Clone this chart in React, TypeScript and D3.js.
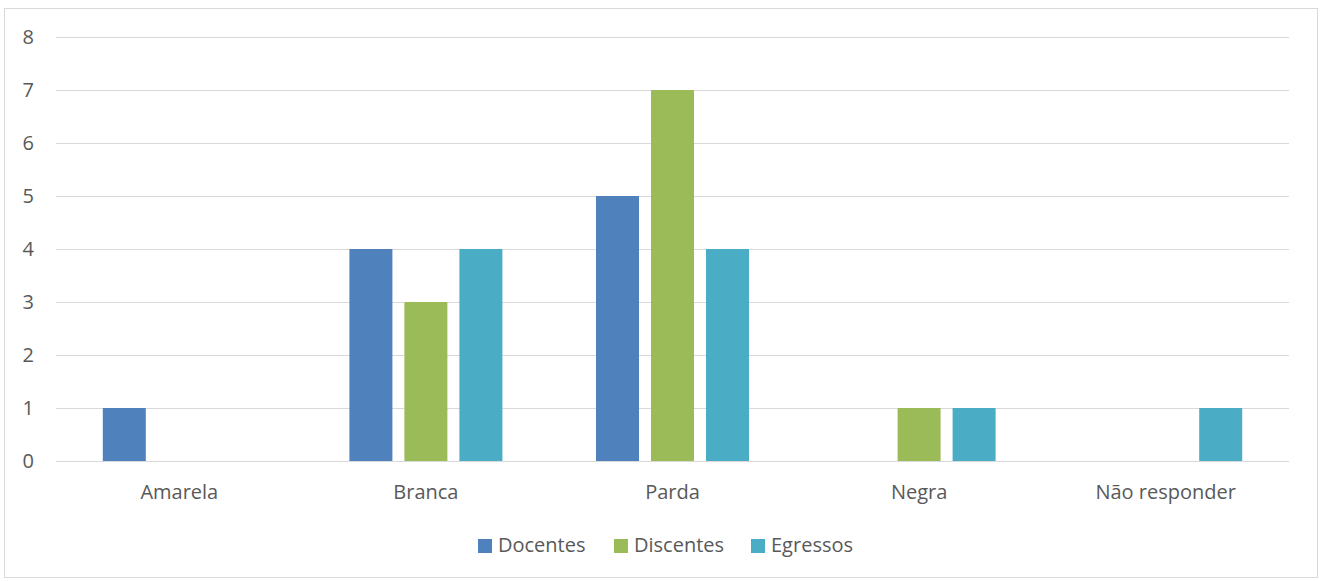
import React from "react";
import * as d3 from "d3";

const categories = ["Amarela", "Branca", "Parda", "Negra", "Não responder"];
const seriesNames = ["Docentes", "Discentes", "Egressos"];
const docentes = [1, 4, 5, 0, 0];
const discentes = [0, 3, 7, 1, 0];
const egressos = [0, 4, 4, 1, 1];
const yTicks = [0, 1, 2, 3, 4, 5, 6, 7, 8];
const colors = ["#4F81BD", "#9BBB59", "#4BACC6"];

const W = 1320, H = 581;
const plot = { left: 56, right: 1289, top: 37, bottom: 461 };
const FONT = "'Open Sans', 'Noto Sans', sans-serif";

export default function App() {
  const values = [docentes, discentes, egressos];
  const x = d3.scaleBand<string>().domain(categories).range([plot.left, plot.right]).paddingInner(0).paddingOuter(0);
  const y = d3.scaleLinear().domain([0, 8]).range([plot.bottom, plot.top]);
  const barW = 43, gap = 12;
  const groupW = barW * 3 + gap * 2;
  const legendX = [478, 614, 751];
  return (
    <svg width={W} height={H} style={{ position: "absolute", left: 0, top: 0 }} fontFamily={FONT}>
      <rect x={0} y={0} width={W} height={H} fill="#fff" />
      <rect x={4.5} y={8.5} width={1313} height={569} fill="none" stroke="#d9d9d9" />
      {yTicks.map((t) => (
        <g key={t}>
          <line x1={plot.left} x2={plot.right} y1={Math.round(y(t)) + 0.5} y2={Math.round(y(t)) + 0.5} stroke="#d9d9d9" strokeWidth={1} />
          <text x={34} y={y(t)} dy="0.36em" textAnchor="end" fontSize={20} fill="#595959">{t}</text>
        </g>
      ))}
      {categories.map((c, ci) => {
        const cx = (x(c) as number) + x.bandwidth() / 2;
        const start = cx - groupW / 2;
        return (
          <g key={c}>
            {values.map((vals, si) => vals[ci] > 0 ? (
              <rect key={si} x={start + si * (barW + gap)} y={y(vals[ci])} width={barW} height={y(0) - y(vals[ci])} fill={colors[si]} />
            ) : null)}
            <text x={cx} y={499} textAnchor="middle" fontSize={20} fill="#595959">{c}</text>
          </g>
        );
      })}
      {seriesNames.map((s, i) => (
        <g key={s}>
          <rect x={legendX[i]} y={539} width={14} height={14} fill={colors[i]} />
          <text x={legendX[i] + 20} y={552} fontSize={20} fill="#595959">{s}</text>
        </g>
      ))}
    </svg>
  );
}
